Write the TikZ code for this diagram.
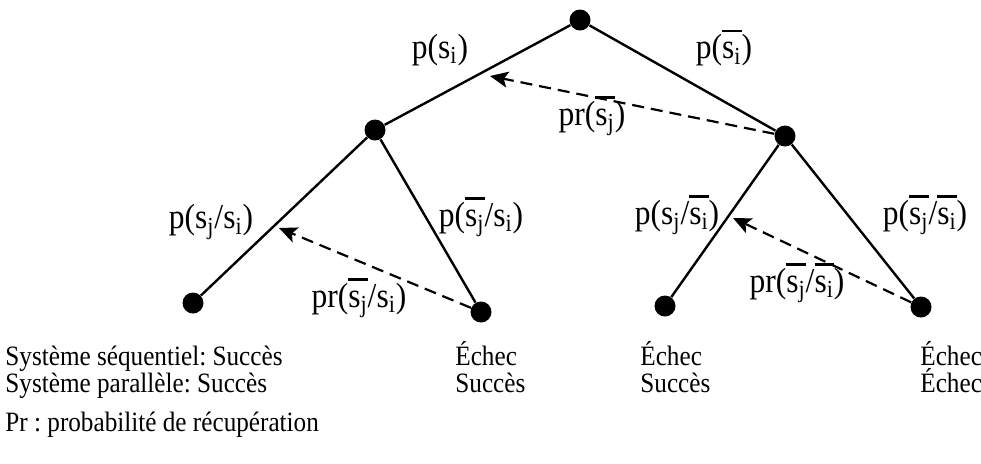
\documentclass[tikz,border=0pt]{standalone}
\usepackage{fontspec}
\setmainfont{Liberation Serif}[FakeStretch=0.9]
\usetikzlibrary{arrows.meta}
\frenchspacing
\newcommand\ob[1]{\vbox{\hrule height 1.2pt\kern 1.2pt\hbox{\vphantom{(}#1}}}
\newcommand\sub[1]{\textsubscript{#1}}
\begin{document}
\begin{tikzpicture}[x=0.5pt,y=-0.5pt,
  dot/.style={circle,fill=black,inner sep=0pt,minimum size=10.5pt},
  edge/.style={line width=1.2pt},
  rec/.style={line width=1.1pt,dash pattern=on 6pt off 3.5pt,-{Stealth[length=9pt,width=8pt,inset=2pt]}},
  lab/.style={font=\fontsize{17.5}{19}\selectfont,inner sep=0pt},
  txt/.style={font=\fontsize{14}{16}\selectfont,inner sep=0pt,anchor=base west}]
\useasboundingbox (0,0) rectangle (981,463);
\node[dot] (r) at (580,20) {};
\node[dot] (lm) at (375,130) {};
\node[dot] (rm) at (785,136) {};
\node[dot] (ll) at (193,303) {};
\node[dot] (lr) at (481,312) {};
\node[dot] (rl) at (665,306) {};
\node[dot] (rr) at (921,307) {};
\draw[edge] (r) -- (lm);
\draw[edge] (r) -- (rm);
\draw[edge] (lm) -- (ll);
\draw[edge] (lm) -- (lr);
\draw[edge] (rm) -- (rl);
\draw[edge] (rm) -- (rr);
\coordinate (t1) at (490,76);
\coordinate (t2) at (279,228);
\coordinate (t3) at (733,218);
\draw[rec] (rm) -- (t1);
\draw[rec] (lr) -- (t2);
\draw[rec] (rr) -- (t3);
\node[lab] (l1) at (440,50) {p(s\sub{i})};
\node[lab] (l2) at (724,48) {p(\ob{s\sub{i}})};
\node[lab] (l3) at (592,116) {pr(\ob{s\sub{j}})};
\node[lab] (l4) at (211,222) {p(s\sub{j}/s\sub{i})};
\node[lab] (l5) at (481,217) {p(\ob{s\sub{j}}/s\sub{i})};
\node[lab] (l6) at (359,298) {pr(\ob{s\sub{j}}/s\sub{i})};
\node[lab] (l7) at (677,215) {p(s\sub{j}/\ob{s\sub{i}})};
\node[lab] (l8) at (925,215) {p(\ob{s\sub{j}}/\ob{s\sub{i}})};
\node[lab] (l9) at (797,283) {pr(\ob{s\sub{j}}/\ob{s\sub{i}})};
\node[txt] (a1) at (5,365) {Système séquentiel: Succès};
\node[txt] (a2) at (5,392) {Système parallèle: Succès};
\node[txt] (b1) at (455,365) {Échec};
\node[txt] (b2) at (455,392) {Succès};
\node[txt] (c1) at (640,365) {Échec};
\node[txt] (c2) at (640,392) {Succès};
\node[txt] (d1) at (920,365) {Échec};
\node[txt] (d2) at (920,392) {Échec};
\node[txt] (e) at (5,431) {Pr : probabilité de récupération};
\end{tikzpicture}
\end{document}
